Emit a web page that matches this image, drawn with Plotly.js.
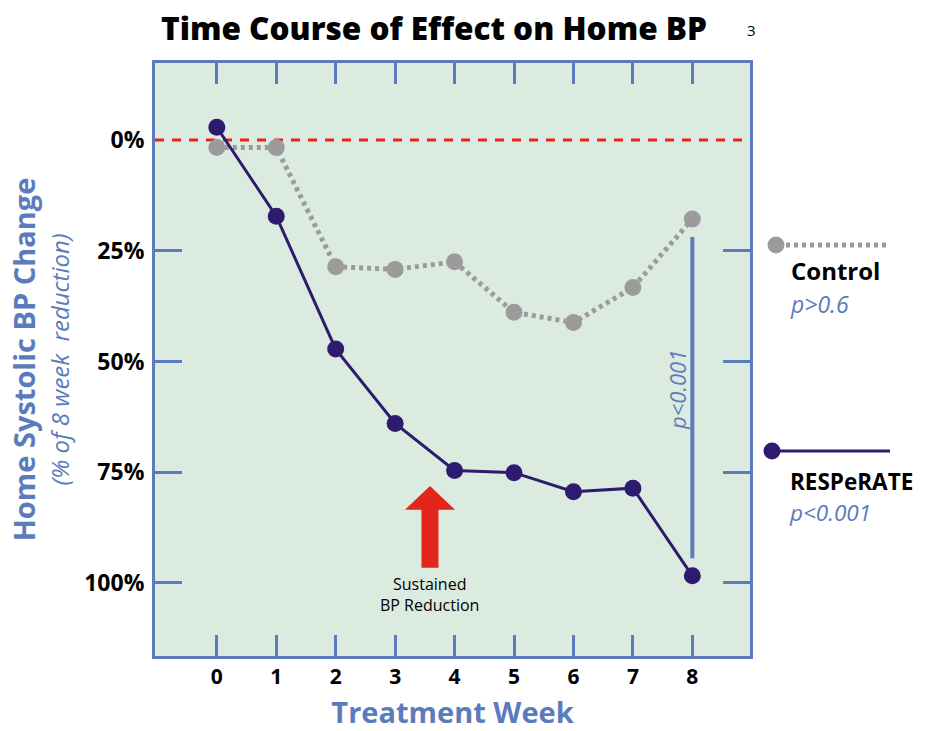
<!DOCTYPE html>
<html><head><meta charset="utf-8">
<script src="https://cdn.plot.ly/plotly-3.0.1.min.js"></script>
<style>body{margin:0;background:#fff}</style>
</head><body>
<div id="chart" style="width:940px;height:731px"></div>
<script>
// ---- data ----
const weeks = [0, 1, 2, 3, 4, 5, 6, 7, 8];
const respeRate = [-2.9, 17.2, 47.2, 64.0, 74.6, 75.1, 79.4, 78.6, 98.4];
const control = [1.7, 1.7, 28.6, 29.2, 27.5, 38.9, 41.2, 33.3, 17.8];
const yTickVals = [0, 25, 50, 75, 100];
const yTickText = ['0%', '25%', '50%', '75%', '100%'];
const seriesNames = ['Control', 'RESPeRATE'];
const seriesP = ['p>0.6', 'p<0.001'];
const diffP = 'p<0.001';

// ---- styles ----
const BLUE = '#5b7bbd', BG = '#dcebe0', PURPLE = '#2e1b6f', GRAY = '#9b9b9b', RED = '#e2261b';
const FONT = 'Open Sans, Noto Sans, sans-serif';
const W = 940, H = 731, L = 155, R = 750, T = 63, B = 656;
const px = x => (x - L) / (R - L);
const py = y => (B - y) / (B - T);
const esc = s => s.replace('<', '&lt;').replace('>', '&gt;');
const legendText = (name, p, nameSize, pSize) =>
  '<span style="font-size:' + nameSize + 'px;font-weight:bold;color:#000">' + name + '</span><br>' +
  '<i><span style="font-size:' + pSize + 'px;color:' + BLUE + '">' + esc(p) + '</span></i>';

const traces = [
  {x: weeks, y: control, name: seriesNames[0], mode: 'lines+markers', showlegend: false,
   line: {color: GRAY, width: 5, dash: '4px,4px'}, marker: {color: GRAY, size: 17}},
  {x: weeks, y: respeRate, name: seriesNames[1], mode: 'lines+markers', showlegend: false,
   line: {color: PURPLE, width: 3}, marker: {color: PURPLE, size: 17}},
  {x: [null], y: [null], yaxis: 'y2', showlegend: false, hoverinfo: 'skip'}
];

const yRange = [116.5, -17.4];
const layout = {
  width: W, height: H,
  margin: {l: L, r: W - R, t: T, b: H - B, pad: 0},
  paper_bgcolor: '#ffffff', plot_bgcolor: BG,
  showlegend: false,
  title: {text: 'Time Course of Effect on Home BP', x: 434 / W, xanchor: 'center', xref: 'container',
          y: 1 - 29 / H, yanchor: 'middle', yref: 'container',
          font: {family: FONT, size: 31.5, color: '#000', weight: 800}},
  xaxis: {range: [-1.04, 8.97], tickvals: weeks, ticktext: weeks.map(String),
          showgrid: false, zeroline: false, showline: true, mirror: 'ticks', linecolor: BLUE, linewidth: 3,
          ticks: 'inside', ticklen: 21, tickwidth: 3, tickcolor: BLUE,
          tickfont: {family: FONT, size: 21, color: '#000', weight: 'bold'},
          title: {text: 'Treatment Week', standoff: 14, font: {family: FONT, size: 29, color: BLUE, weight: 'bold'}}},
  yaxis: {range: yRange, tickvals: yTickVals, ticktext: yTickText,
          showgrid: false, zeroline: false, showline: true, mirror: true, linecolor: BLUE, linewidth: 3,
          ticks: '', ticklabelstandoff: 3,
          tickfont: {family: FONT, size: 23, color: '#000', weight: 'bold'},
          title: {text: '<b><span style="font-size:29px">Home Systolic BP Change</span></b><br><i><span style="font-size:24px">(% of 8 week  reduction)</span></i>',
                  standoff: 8, font: {family: FONT, size: 26, color: BLUE}}},
  yaxis2: {range: yRange, overlaying: 'y', tickvals: yTickVals.slice(1), showticklabels: false,
           showgrid: false, zeroline: false, showline: true, mirror: 'ticks', linecolor: BLUE, linewidth: 3,
           ticks: 'inside', ticklen: 27, tickwidth: 3, tickcolor: BLUE},
  shapes: [
    {type: 'line', xref: 'paper', x0: 0, x1: 1, yref: 'y', y0: 0, y1: 0, layer: 'below',
     line: {color: RED, width: 3, dash: '9px,8px'}},
    {type: 'line', xref: 'x', x0: 8, x1: 8, yref: 'y', y0: 21.9, y1: 94.4, line: {color: BLUE, width: 4}},
    {type: 'path', xref: 'x', yref: 'y', fillcolor: RED, line: {width: 0},
     path: 'M3.165,83.5 L3.586,78.1 L4.007,83.5 L3.729,83.5 L3.729,96.6 L3.443,96.6 L3.443,83.5 Z'},
    // legend keys
    {type: 'line', xref: 'paper', yref: 'paper', x0: px(786), x1: px(888), y0: py(245), y1: py(245),
     line: {color: GRAY, width: 5, dash: '4px,4px'}},
    {type: 'circle', xref: 'paper', yref: 'paper', xsizemode: 'pixel', ysizemode: 'pixel',
     xanchor: px(776), yanchor: py(245), x0: -8.5, x1: 8.5, y0: -8.5, y1: 8.5, fillcolor: GRAY, line: {width: 0}},
    {type: 'line', xref: 'paper', yref: 'paper', x0: px(780), x1: px(890), y0: py(451), y1: py(451),
     line: {color: PURPLE, width: 3}},
    {type: 'circle', xref: 'paper', yref: 'paper', xsizemode: 'pixel', ysizemode: 'pixel',
     xanchor: px(772), yanchor: py(451), x0: -8.5, x1: 8.5, y0: -8.5, y1: 8.5, fillcolor: PURPLE, line: {width: 0}}
  ],
  annotations: [
    {text: '3', xref: 'paper', yref: 'paper', x: px(751), y: py(30), xanchor: 'center', yanchor: 'middle', showarrow: false,
     font: {family: FONT, size: 15, color: '#000'}},
    {text: 'Sustained<br>BP Reduction', xref: 'x', yref: 'y', x: 3.586, y: 102.6, yanchor: 'middle', showarrow: false,
     font: {family: FONT, size: 16, color: '#000'}},
    {text: '<i>' + esc(diffP) + '</i>', xref: 'x', yref: 'y', x: 7.744, y: 56.4, textangle: -90, yanchor: 'middle',
     showarrow: false, font: {family: FONT, size: 22, color: BLUE}},
    {text: legendText(seriesNames[0], seriesP[0], 24, 23), xref: 'paper', yref: 'paper', x: px(788), y: py(287),
     xanchor: 'left', yanchor: 'middle', align: 'left', showarrow: false,
     font: {family: FONT, size: 25, color: '#000'}},
    {text: legendText(seriesNames[1], seriesP[1], 22.5, 22.5), xref: 'paper', yref: 'paper', x: px(787), y: py(497),
     xanchor: 'left', yanchor: 'middle', align: 'left', showarrow: false,
     font: {family: FONT, size: 23.5, color: '#000'}}
  ]
};

Plotly.newPlot('chart', traces, layout, {displayModeBar: false, staticPlot: true});
</script>
</body></html>
